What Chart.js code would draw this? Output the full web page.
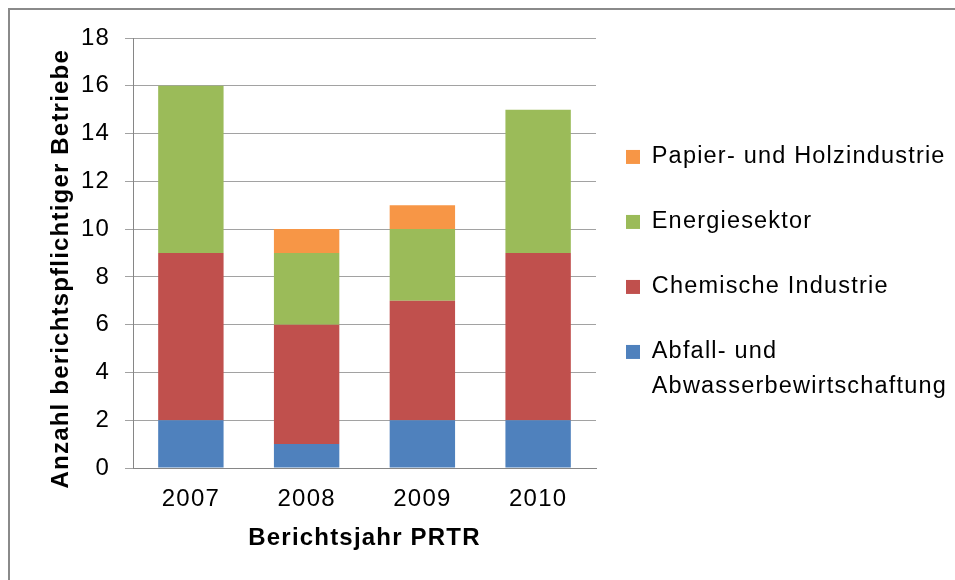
<!DOCTYPE html>
<html>
<head>
<meta charset="utf-8">
<script src="https://cdn.jsdelivr.net/npm/chart.js@4/dist/chart.umd.min.js"></script>
<style>
  html, body { margin: 0; padding: 0; background: #fff; }
  #wrap { position: relative; width: 955px; height: 580px; }
  #frame {
    position: absolute; left: 8px; top: 8px; right: 0; bottom: 0;
    border-top: 2px solid #8a8a8a; border-left: 2px solid #8a8a8a;
    pointer-events: none;
  }
</style>
</head>
<body>
<div id="wrap">
  <canvas id="prtrChart" width="955" height="580"></canvas>
  <div id="frame"></div>
</div>
<script>
const years = ['2007', '2008', '2009', '2010'];
const abfall = [2, 1, 2, 2];
const chemie = [7, 5, 5, 7];
const energie = [7, 3, 3, 6];
const papier = [0, 1, 1, 0];

const seriesNames = [
    'Abfall- und\nAbwasserbewirtschaftung',
    'Chemische Industrie',
    'Energiesektor',
    'Papier- und Holzindustrie'
];
const seriesColors = ['#4f81bd', '#c0504d', '#9bbb59', '#f79646'];

Chart.defaults.font.family = "'Liberation Sans', Arial, sans-serif";
Chart.defaults.color = '#000';

// the original text is set a little wider than plain Arial
const wideText = {
    id: 'wideText',
    beforeLayout(chart) {
        chart.ctx.letterSpacing = '1.2px';
    }
};

const canvas = document.getElementById('prtrChart');

new Chart(canvas, {
    type: 'bar',
    data: {
        labels: years,
        datasets: [abfall, chemie, energie, papier].map((values, i) => ({
            label: seriesNames[i],
            data: values,
            backgroundColor: seriesColors[i],
            borderWidth: 0,
            barPercentage: 0.565,
            categoryPercentage: 1
        }))
    },
    options: {
        responsive: false,
        animation: false,
        layout: {
            padding: { top: 38, right: 0, bottom: 0, left: 0 }
        },
        scales: {
            x: {
                stacked: true,
                grid: { display: false, drawTicks: false },
                border: { display: true, color: '#868686', width: 1 },
                ticks: { font: { size: 24 }, padding: 17 },
                title: {
                    display: true,
                    text: 'Berichtsjahr PRTR',
                    font: { size: 24, weight: 'bold' },
                    padding: { top: 0, bottom: 27.6 }
                },
                afterFit(scale) {
                    scale.height = 112;
                }
            },
            y: {
                stacked: true,
                min: 0,
                max: 18,
                ticks: { stepSize: 2, font: { size: 24 }, padding: 15 },
                grid: { color: '#a2a2a2', tickLength: 8 },
                border: { display: true, color: '#868686', width: 1 },
                title: {
                    display: true,
                    text: 'Anzahl berichtspflichtiger Betriebe    ',
                    font: { size: 24, weight: 'bold' },
                    padding: { top: 46.6, bottom: 0 }
                },
                afterFit(scale) {
                    scale.width = 133;
                }
            }
        },
        plugins: {
            tooltip: { enabled: false },
            legend: {
                position: 'right',
                fullSize: false,
                reverse: true,
                maxWidth: 359,
                title: {
                    display: true,
                    text: '',
                    padding: { top: 35, bottom: 0 }
                },
                labels: {
                    boxWidth: 14,
                    boxHeight: 14,
                    padding: 30,
                    font: { size: 23.5, lineHeight: '35px' },
                    generateLabels(chart) {
                        const items = Chart.defaults.plugins.legend.labels.generateLabels(chart);
                        return items.map(item => ({ ...item, text: item.text.split('\n'), lineWidth: 0 }));
                    }
                }
            }
        }
    },
    plugins: [wideText]
});
</script>
</body>
</html>
